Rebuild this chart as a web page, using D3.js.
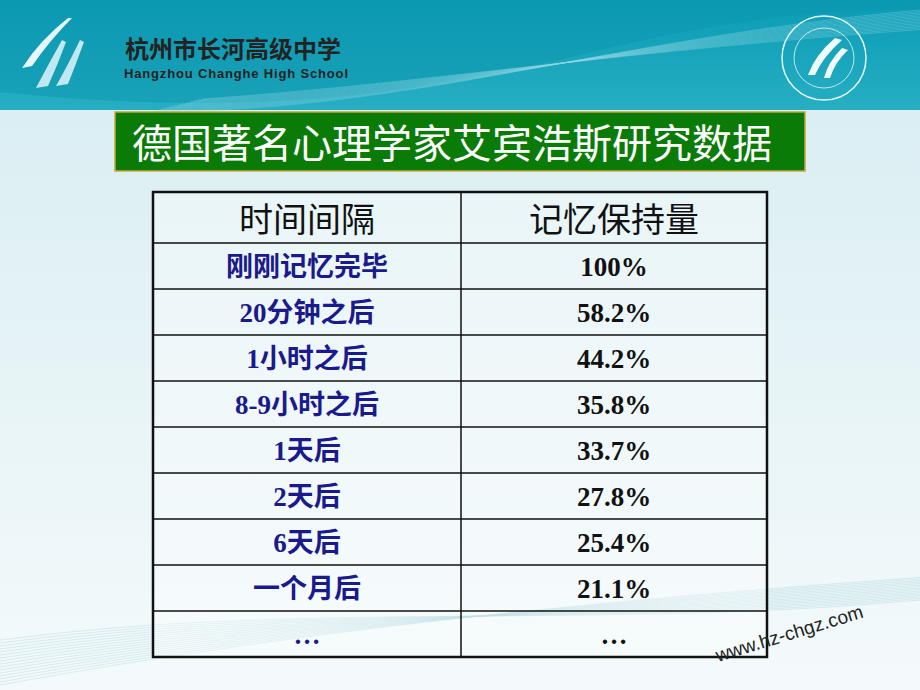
<!DOCTYPE html>
<html><head><meta charset="utf-8">
<script src="https://cdn.jsdelivr.net/npm/d3@7"></script>
<style>body{margin:0;overflow:hidden}</style>
</head><body>
<script>
const title = "德国著名心理学家艾宾浩斯研究数据";
const headers = ["时间间隔", "记忆保持量"];
const intervals = ["刚刚记忆完毕","20分钟之后","1小时之后","8-9小时之后","1天后","2天后","6天后","一个月后","…"];
const retention = ["100%","58.2%","44.2%","35.8%","33.7%","27.8%","25.4%","21.1%","…"];

const W=920,H=690;
const svg=d3.select("body").append("svg").attr("width",W).attr("height",H);
const defs=svg.append("defs");
const g1=defs.append("linearGradient").attr("id","top").attr("x1",0).attr("y1",0).attr("x2",0).attr("y2",1);
g1.append("stop").attr("offset",0).attr("stop-color","#0a9cb5");
g1.append("stop").attr("offset",1).attr("stop-color","#27aec3");
const g2=defs.append("linearGradient").attr("id","bg").attr("x1",0).attr("y1",0).attr("x2",0).attr("y2",1);
g2.append("stop").attr("offset",0).attr("stop-color","#d6ecf1");
g2.append("stop").attr("offset",1).attr("stop-color","#f4fafb");
svg.append("rect").attr("width",W).attr("height",H).attr("fill","url(#bg)");
svg.append("rect").attr("width",W).attr("height",110).attr("fill","url(#top)");
svg.append("path").attr("d","M0,92 C250,118 420,95 600,50 C720,20 830,8 920,10 L920,0 L0,0 Z").attr("fill","#0b95ae").attr("opacity",0.5);
for(let i=0;i<14;i++){
  svg.append("path").attr("d",`M${150+i*4},${112-i} C420,${110-i*2} 600,${40+i} 920,${10+i*1.5}`)
   .attr("fill","none").attr("stroke","#8fd6e3").attr("stroke-width",0.6).attr("opacity",0.6);
}
for(let i=0;i<16;i++){
  svg.append("path").attr("d",`M0,${640+i*3} C300,${600+i*2} 600,${630-i*2} 920,${600-i*1.5}`)
   .attr("fill","none").attr("stroke","#9fd0da").attr("stroke-width",0.6).attr("opacity",0.6);
}
const logo=svg.append("g");
logo.append("path").attr("d","M68,18 Q40,40 22,68 L32,66 Q50,40 72,18 Z").attr("fill","#e6f7fa");
logo.append("path").attr("d","M62,40 Q48,65 36,88 L48,86 Q58,64 66,42 Z").attr("fill","#bfe8f0");
logo.append("path").attr("d","M80,40 Q68,65 56,86 L68,84 Q76,64 84,42 Z").attr("fill","#bfe8f0");
svg.append("text").attr("x",125).attr("y",58).attr("font-family","Noto Sans CJK SC").attr("font-weight","bold").attr("font-size",24).attr("fill","#222").text("杭州市长河高级中学");
svg.append("text").attr("x",124).attr("y",78).attr("font-family","Liberation Sans").attr("font-weight","bold").attr("font-size",13).attr("fill","#222").attr("textLength",224).text("Hangzhou Changhe High School");
svg.append("circle").attr("cx",824).attr("cy",58).attr("r",42).attr("fill","none").attr("stroke","#e8f8fb").attr("stroke-width",1.5);
svg.append("circle").attr("cx",824).attr("cy",58).attr("r",30).attr("fill","none").attr("stroke","#e8f8fb").attr("stroke-width",0.8);
svg.append("path").attr("d","M835,38 Q815,55 808,75 L815,75 Q822,58 842,40 Z").attr("fill","#f0fbfd");
svg.append("path").attr("d","M842,48 Q828,62 824,78 L830,78 Q835,62 848,50 Z").attr("fill","#f0fbfd");
svg.append("rect").attr("x",115).attr("y",112).attr("width",690).attr("height",59).attr("fill","#0a7b06").attr("stroke","#c8a63a").attr("stroke-width",1.5);
svg.append("text").attr("x",452).attr("y",158).attr("text-anchor","middle").attr("font-family","Noto Sans CJK SC").attr("font-size",40).attr("fill","#fff").text(title);
const x0=153,x1=767,xm=461;
const hy0=192,hy1=243;
const yb=d3.scaleBand().domain(intervals.map((d,i)=>i)).range([hy1,657]);
const t=svg.append("g");
t.append("rect").attr("x",x0).attr("y",hy0).attr("width",x1-x0).attr("height",657-hy0).attr("fill","#ffffff").attr("opacity",0.35);
t.selectAll(".hl").data(intervals.map((d,i)=>i)).join("line").attr("x1",x0).attr("x2",x1)
 .attr("y1",d=>yb(d)).attr("y2",d=>yb(d)).attr("stroke","#111").attr("stroke-width",1.5);
t.append("line").attr("x1",xm).attr("x2",xm).attr("y1",hy0).attr("y2",657).attr("stroke","#111").attr("stroke-width",1.5);
t.append("rect").attr("x",x0).attr("y",hy0).attr("width",x1-x0).attr("height",657-hy0).attr("fill","none").attr("stroke","#111").attr("stroke-width",2.5);
t.selectAll(".hd").data(headers).join("text").attr("x",(d,i)=>i?(xm+x1)/2:(x0+xm)/2).attr("y",232)
 .attr("text-anchor","middle").attr("font-family","Noto Sans CJK SC").attr("font-size",34).attr("fill","#111").text(d=>d);
t.selectAll(".c1").data(intervals).join("text").attr("x",(x0+xm)/2).attr("y",(d,i)=>yb(i)+yb.bandwidth()/2+10)
 .attr("text-anchor","middle").attr("font-family","Liberation Serif, Noto Sans CJK SC").attr("font-weight","bold").attr("font-size",27).attr("fill","#1a1a8c").text(d=>d);
t.selectAll(".c2").data(retention).join("text").attr("x",(xm+x1)/2).attr("y",(d,i)=>yb(i)+yb.bandwidth()/2+10)
 .attr("text-anchor","middle").attr("font-family","Liberation Serif").attr("font-weight","bold").attr("font-size",27).attr("fill","#111").text(d=>d);
svg.append("text").attr("transform","translate(718,662) rotate(-17)").attr("font-family","Liberation Sans").attr("font-size",19).attr("fill","#222").text("www.hz-chgz.com");
</script>
</body></html>
